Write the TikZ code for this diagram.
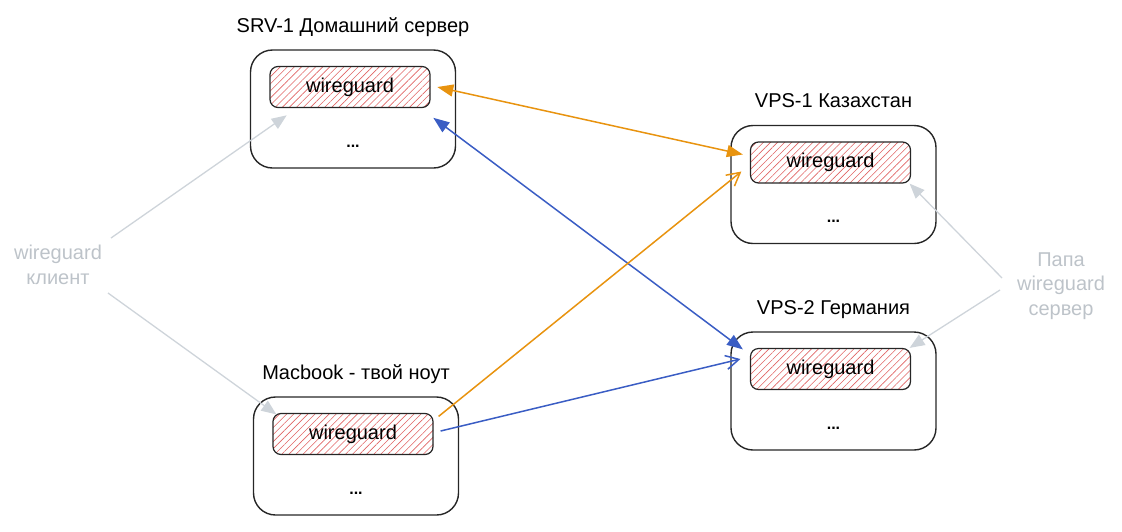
\documentclass[tikz,border=0pt]{standalone}
\usepackage{fontspec}
\setmainfont{Liberation Sans}
\usetikzlibrary{calc}
\usetikzlibrary{arrows.meta}
\usetikzlibrary{patterns.meta}
\definecolor{wgorange}{HTML}{E8930F}
\definecolor{wgblue}{HTML}{3A5DC4}
\definecolor{wggrey}{HTML}{CED4DA}
\definecolor{wgred}{HTML}{E06464}

\begin{document}
\begin{tikzpicture}[x=1pt,y=-1pt,line join=round,
    host/.style={draw=black!85,line width=1.4pt,rounded corners=22pt,minimum width=205pt,minimum height=118pt},
    wg/.style={draw=black!85,line width=1.2pt,rounded corners=8pt,minimum width=160pt,minimum height=41pt,
        pattern={Lines[angle=45,distance=5pt,line width=0.6pt]},pattern color=wgred,font=\fontsize{20}{22}\selectfont},
    lbl/.style={font=\fontsize{20}{22}\selectfont},
    note/.style={text=wggrey!92!black,align=center,font=\fontsize{20}{24.5}\selectfont},
    both/.style={{Triangle[length=16pt,width=12pt]}-{Triangle[length=16pt,width=12pt]},line width=1.5pt},
    one/.style={-{Straight Barb[length=13pt,width=14pt]},line width=1.5pt},
    hint/.style={-{Triangle[length=15pt,width=12pt]},draw=wggrey,line width=1.3pt}]
    \useasboundingbox (0,0) rectangle (1122,531);
    %%%%%%%%%%%%%%%%%%%%%%%%%%%%%%%%%%%%%%%%%%hosts
    \foreach \n/\x/\y/\t in {srv/353/109/{SRV-1 Домашний сервер},kz/833.5/184.5/{VPS-1 Казахстан},de/833.5/391/{VPS-2 Германия},mac/356/456/{Macbook - твой ноут}}
    {
        \node[host] (\n) at (\x,\y) {};
        \node[wg] (\n wg) at ($(\n)+(-3,-22)$) {wireguard};
        \node[lbl,anchor=base] (\n title) at ($(\n.north)+(0,-17)$) {\t};
        \node[font=\fontsize{16}{18}\bfseries\selectfont] (\n dots) at ($(\n)+(0,37)$) {...};
    }
    %%%%%%%%%%%%%%%%%%%%%%%%%%%%%%%%%%%%%%%%%%notes
    \node[note] (client) at (58,265) {wireguard\\клиент};
    \node[note] (papa) at (1061,286) {Папа\\wireguard\\сервер};
    %%%%%%%%%%%%%%%%%%%%%%%%%%%%%%%%%%%%%%%%%%tunnels
    \draw[both,color=wgorange] ($(srvwg.east)+(7,0)$) -- ($(kzwg.west)+(-7,-8)$);
    \draw[both,color=wgblue] ($(srvwg.south east)+(3,10)$) -- ($(dewg.north west)+(-7,1.5)$);
    \draw[one,color=wgorange] ($(macwg.north east)+(5,3.5)$) -- ($(kzwg.west)+(-8.5,9)$);
    \draw[one,color=wgblue] ($(macwg.east)+(7,-3)$) -- ($(dewg.west)+(-9.5,-10)$);
    %%%%%%%%%%%%%%%%%%%%%%%%%%%%%%%%%%%%%%%%%%hints
    \draw[hint] ($(client)+(53,-27)$) -- ($(srvwg.south west)+(17,7.5)$);
    \draw[hint] ($(client)+(50,28)$) -- ($(macwg.north west)+(4,1.5)$);
    \draw[hint] ($(papa)+(-59,-8)$) -- ($(kzwg.south east)+(-1.5,0)$);
    \draw[hint] ($(papa)+(-61,4)$) -- ($(dewg.north east)+(-1.5,0)$);
\end{tikzpicture}
\end{document}
